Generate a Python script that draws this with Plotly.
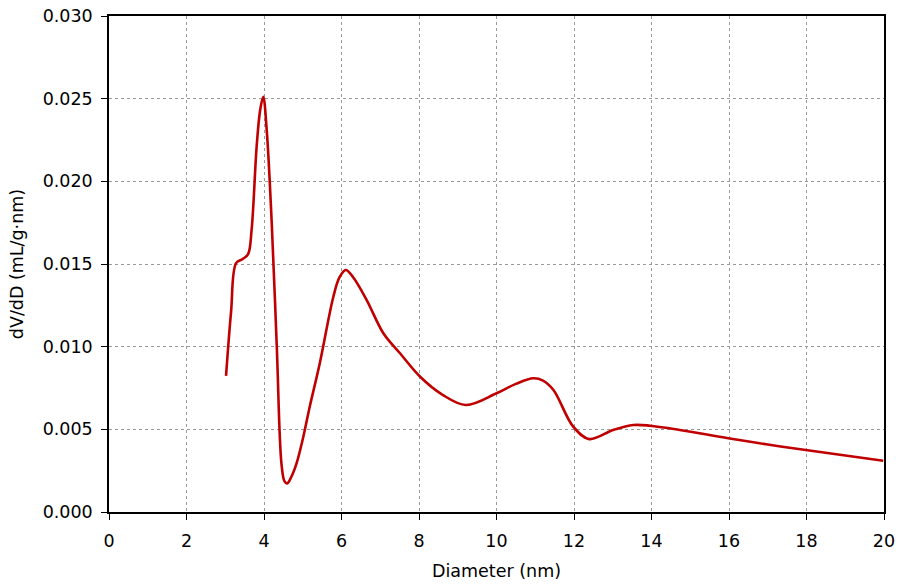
import plotly.graph_objects as go

diameter = [3.02, 3.15, 3.28, 3.45, 3.59, 3.68, 3.81, 3.90, 3.98, 4.07, 4.20, 4.33, 4.45, 4.53, 4.60,
            4.70, 4.84, 5.00, 5.18, 5.44, 5.79, 5.95, 6.11, 6.30, 6.65, 7.08, 7.51, 8.03, 8.60,
            9.21, 10.0, 10.50, 10.95, 11.20, 11.47, 11.98, 12.39, 13.01, 13.53, 13.96, 14.73,
            15.98, 17.0, 17.98, 19.98]
dvdd = [0.00823, 0.01210, 0.01505, 0.0153, 0.01560, 0.01706, 0.0221, 0.0243, 0.02512, 0.0231, 0.01746,
        0.0100, 0.00294, 0.00185, 0.00173, 0.00210, 0.00294, 0.00440, 0.00637, 0.0090, 0.01302, 0.01420,
        0.01464, 0.01420, 0.01282, 0.01081, 0.00960, 0.00818, 0.00710, 0.00647, 0.00718, 0.00775,
        0.00809, 0.00795, 0.00738, 0.00516, 0.00441, 0.00496, 0.00526, 0.00522, 0.00496,
        0.00446, 0.00408, 0.00375, 0.00310]

x_ticks = [0, 2, 4, 6, 8, 10, 12, 14, 16, 18, 20]
y_ticks = [0.000, 0.005, 0.010, 0.015, 0.020, 0.025, 0.030]
y_labels = [f"{v:.3f}" for v in y_ticks]

fig = go.Figure()
fig.add_trace(go.Scatter(
    x=diameter, y=dvdd, mode="lines",
    line=dict(color="#c00000", width=2.6, shape="spline", smoothing=1.0),
    showlegend=False,
))

font = dict(family="DejaVu Sans, Verdana, sans-serif", size=17.5, color="black")
fig.update_layout(
    width=900, height=585,
    margin=dict(l=109, r=16, t=16, b=73),
    paper_bgcolor="white", plot_bgcolor="white",
    font=font,
)
fig.update_xaxes(
    range=[0, 20], tickvals=x_ticks, ticktext=[str(v) for v in x_ticks],
    showline=True, linecolor="black", linewidth=1.5, mirror=True,
    ticks="outside", ticklen=6, tickcolor="black", ticklabelstandoff=6,
    showgrid=True, gridcolor="#9a9a9a", gridwidth=1, griddash="3px,3px",
    zeroline=False, automargin=False,
    title=dict(text="Diameter (nm)", font=font, standoff=15),
)
fig.update_yaxes(
    range=[0, 0.030], tickvals=y_ticks, ticktext=y_labels,
    showline=True, linecolor="black", linewidth=1.5, mirror=True,
    ticks="outside", ticklen=6, tickcolor="black", ticklabelstandoff=5,
    showgrid=True, gridcolor="#9a9a9a", gridwidth=1, griddash="3px,3px",
    zeroline=False, automargin=False,
    title=dict(text="dV/dD (mL/g·nm)", font=font, standoff=15),
)
fig.write_html(
    "out.html",
    config={"displayModeBar": False},
    post_script=("document.documentElement.style.margin='0';"
                 "document.documentElement.style.overflow='hidden';"
                 "document.body.style.margin='0';document.body.style.padding='0';"
                 "document.body.style.overflow='hidden';"),
)
